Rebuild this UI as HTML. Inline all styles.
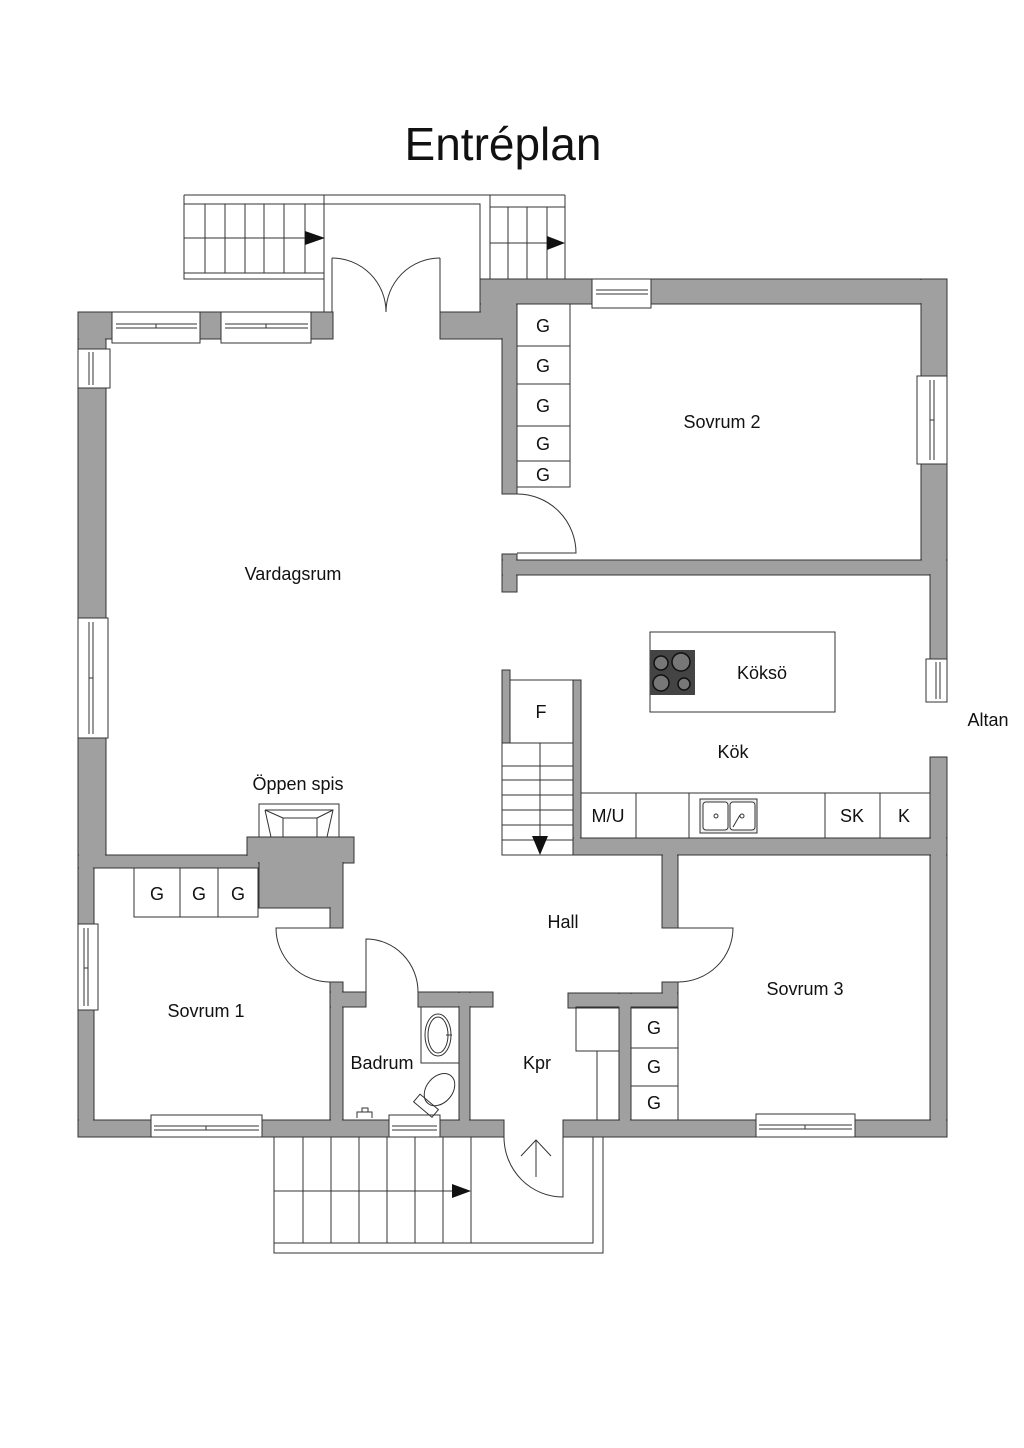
<!DOCTYPE html>
<html><head><meta charset="utf-8"><style>
html,body{margin:0;padding:0;background:#fff;}
svg{display:block;}
text{font-family:"Liberation Sans",sans-serif;fill:#111;}
</style></head><body>
<svg width="1024" height="1448" viewBox="0 0 1024 1448" xmlns="http://www.w3.org/2000/svg">
<text x="503" y="160" font-size="46" text-anchor="middle">Entréplan</text>

<g fill="#a0a0a0" stroke="#333" stroke-width="1">
<rect x="78" y="312" width="28" height="556"/>
<rect x="78" y="855" width="16" height="282"/>
<rect x="78" y="312" width="255" height="27"/>
<rect x="440" y="312" width="62" height="27"/>
<rect x="480" y="279" width="37" height="33"/>
<rect x="502" y="279" width="15" height="215"/>
<rect x="480" y="279" width="467" height="25"/>
<rect x="921" y="279" width="26" height="296"/>
<rect x="502" y="554" width="15" height="38"/>
<rect x="502" y="560" width="445" height="15"/>
<rect x="930" y="560" width="17" height="99"/>
<rect x="930" y="757" width="17" height="380"/>
<rect x="78" y="855" width="181" height="13"/>
<rect x="247" y="837" width="107" height="26"/>
<rect x="259" y="855" width="84" height="53"/>
<rect x="330" y="855" width="13" height="73"/>
<rect x="502" y="670" width="8" height="73"/>
<rect x="573" y="680" width="8" height="175"/>
<rect x="573" y="838" width="374" height="17"/>
<rect x="662" y="855" width="16" height="73"/>
<rect x="662" y="982" width="16" height="25"/>
<rect x="568" y="993" width="110" height="15"/>
<rect x="619" y="993" width="12" height="144"/>
<rect x="330" y="982" width="13" height="155"/>
<rect x="330" y="992" width="36" height="15"/>
<rect x="418" y="992" width="75" height="15"/>
<rect x="459" y="992" width="11" height="145"/>
<rect x="78" y="1120" width="426" height="17"/>
<rect x="563" y="1120" width="384" height="17"/>
</g>
<g fill="#a0a0a0">
<rect x="79" y="313" width="26" height="554"/>
<rect x="79" y="856" width="14" height="280"/>
<rect x="79" y="313" width="253" height="25"/>
<rect x="441" y="313" width="75" height="25"/>
<rect x="481" y="280" width="35" height="58"/>
<rect x="481" y="280" width="465" height="23"/>
<rect x="503" y="280" width="13" height="213"/>
<rect x="922" y="280" width="24" height="294"/>
<rect x="503" y="561" width="443" height="13"/>
<rect x="503" y="555" width="13" height="36"/>
<rect x="931" y="561" width="15" height="97"/>
<rect x="931" y="758" width="15" height="378"/>
<rect x="79" y="856" width="179" height="11"/>
<rect x="248" y="838" width="105" height="24"/>
<rect x="260" y="856" width="82" height="51"/>
<rect x="331" y="856" width="11" height="71"/>
<rect x="574" y="681" width="6" height="173"/>
<rect x="574" y="839" width="372" height="15"/>
<rect x="663" y="839" width="14" height="88"/>
<rect x="663" y="983" width="14" height="23"/>
<rect x="569" y="994" width="108" height="13"/>
<rect x="620" y="994" width="10" height="142"/>
<rect x="331" y="983" width="11" height="153"/>
<rect x="331" y="993" width="34" height="13"/>
<rect x="419" y="993" width="73" height="13"/>
<rect x="460" y="993" width="9" height="143"/>
<rect x="79" y="1121" width="424" height="15"/>
<rect x="564" y="1121" width="382" height="15"/>
</g>

<g fill="#fff" stroke="#333" stroke-width="1">
<rect x="112" y="312" width="88" height="31"/>
<rect x="221" y="312" width="90" height="31"/>
<rect x="78" y="349" width="32" height="39"/>
<rect x="78" y="618" width="30" height="120"/>
<rect x="592" y="279" width="59" height="29"/>
<rect x="917" y="376" width="30" height="88"/>
<rect x="926" y="659" width="21" height="43"/>
<rect x="78" y="924" width="20" height="86"/>
<rect x="151" y="1115" width="111" height="22"/>
<rect x="389" y="1115" width="51" height="22"/>
<rect x="756" y="1114" width="99" height="23"/>
</g>
<g stroke="#333" stroke-width="1" fill="none">
<path d="M116 324H197M116 328H197M156 324V328M225 324H308M225 328H308M266 324V328"/>
<path d="M89 352V385M93 352V385"/>
<path d="M89 622V734M93 622V734M89 678H93"/>
<path d="M596 290H648M596 294H648"/>
<path d="M930 380V460M934 380V460M930 420H934"/>
<path d="M936 662V699M940 662V699"/>
<path d="M84 928V1006M88 928V1006M84 968H88"/>
<path d="M154 1126H259M154 1130H259M206 1126V1130"/>
<path d="M392 1126H437M392 1130H437"/>
<path d="M759 1125H852M759 1129H852M805 1125V1129"/>

<path d="M184 195H565M184 195V279H324M184 204H324M184 273H324"/>
<path d="M205 204V273M225 204V273M245 204V273M264 204V273M284 204V273M305 204V273M184 238H310"/>
<path d="M324 195V312M324 204H480V312M332 312V258M440 312V258"/>
<path d="M332 258A54 54 0 0 1 386 312M440 258A54 54 0 0 0 386 312"/>
<path d="M490 195V279M490 207H565M565 195V279M508 207V279M527 207V279M547 207V279M490 243H552"/>

<rect x="517" y="304" width="53" height="183"/>
<path d="M517 346H570M517 384H570M517 426H570M517 461H570"/>
<path d="M517 494A59 59 0 0 1 576 553H517"/>

<rect x="650" y="632" width="185" height="80"/>
<rect x="510" y="680" width="63" height="63"/>
<rect x="502" y="743" width="71" height="112"/>
<path d="M540 743V840M502 766H573M502 780H573M502 795H573M502 810H573M502 825H573M502 840H573"/>
<rect x="581" y="793" width="349" height="45"/>
<path d="M636 793V838M689 793V838M825 793V838M880 793V838"/>
<rect x="700" y="799" width="57" height="34" fill="#eee"/>
<rect x="703" y="802" width="25" height="28" rx="3" fill="#fff"/>
<rect x="730" y="802" width="25" height="28" rx="3" fill="#fff"/>
<circle cx="716" cy="816" r="2"/><circle cx="742" cy="816" r="2"/>
<path d="M733 827L740 815"/>

<path d="M678 928H733A55 54 0 0 1 678 982"/>
<rect x="576" y="1007" width="43" height="44"/>
<path d="M597 1051V1120"/>
<rect x="631" y="1007" width="47" height="113"/>
<path d="M631 1048H678M631 1086H678"/>

<rect x="259" y="804" width="80" height="33" fill="#fff"/>
<path d="M265 810H333L327 837M265 810L271 837M283 818H317M283 818V837M317 818V837M265 810L283 818M333 810L317 818"/>
<rect x="134" y="868" width="124" height="49" fill="#fff"/>
<path d="M180 868V917M218 868V917"/>
<path d="M330 928H276A54 54 0 0 0 330 982"/>
<path d="M366 992V939A52 53 0 0 1 418 992"/>
<rect x="421" y="1007" width="38" height="56"/>
<ellipse cx="438" cy="1035" rx="13" ry="21"/>
<ellipse cx="438" cy="1035" rx="10" ry="18"/>
<path d="M446 1035H452"/>
<g transform="rotate(40 435 1095)"><ellipse cx="435" cy="1088" rx="13" ry="18"/><rect x="423" y="1104" width="24" height="10"/></g>
<path d="M357 1118V1112H372V1118M362 1112V1108H368V1112"/>

<path d="M563 1137V1197A59 60 0 0 1 504 1137"/>
<path d="M536 1177V1140M521 1156L536 1140L551 1156"/>
<path d="M274 1137V1253H603V1137M274 1243H593V1137"/>
<path d="M303 1137V1243M331 1137V1243M359 1137V1243M387 1137V1243M415 1137V1243M443 1137V1243M471 1137V1243M274 1191H456"/>
</g>
<g fill="#111">
<path d="M305 231L325 238L305 245Z"/>
<path d="M547 236L565 243L547 250Z"/>
<path d="M532 836L548 836L540 855Z"/>
<path d="M452 1184L471 1191L452 1198Z"/>
</g>
<rect x="650" y="650" width="45" height="45" fill="#444"/>
<g fill="#777" stroke="#111" stroke-width="1.5">
<circle cx="661" cy="663" r="7"/><circle cx="681" cy="662" r="9"/>
<circle cx="661" cy="683" r="8"/><circle cx="684" cy="684" r="6"/>
</g>

<g font-size="18" text-anchor="middle">
<text x="722" y="428">Sovrum 2</text>
<text x="293" y="580">Vardagsrum</text>
<text x="762" y="679">Köksö</text>
<text x="988" y="726">Altan</text>
<text x="733" y="758">Kök</text>
<text x="541" y="718">F</text>
<text x="298" y="790">Öppen spis</text>
<text x="608" y="822">M/U</text>
<text x="852" y="822">SK</text>
<text x="904" y="822">K</text>
<text x="563" y="928">Hall</text>
<text x="805" y="995">Sovrum 3</text>
<text x="206" y="1017">Sovrum 1</text>
<text x="382" y="1069">Badrum</text>
<text x="537" y="1069">Kpr</text>
<text x="543" y="332">G</text><text x="543" y="372">G</text><text x="543" y="412">G</text><text x="543" y="450">G</text><text x="543" y="481">G</text>
<text x="157" y="900">G</text><text x="199" y="900">G</text><text x="238" y="900">G</text>
<text x="654" y="1034">G</text><text x="654" y="1073">G</text><text x="654" y="1109">G</text>
</g>
</svg>
</body></html>
